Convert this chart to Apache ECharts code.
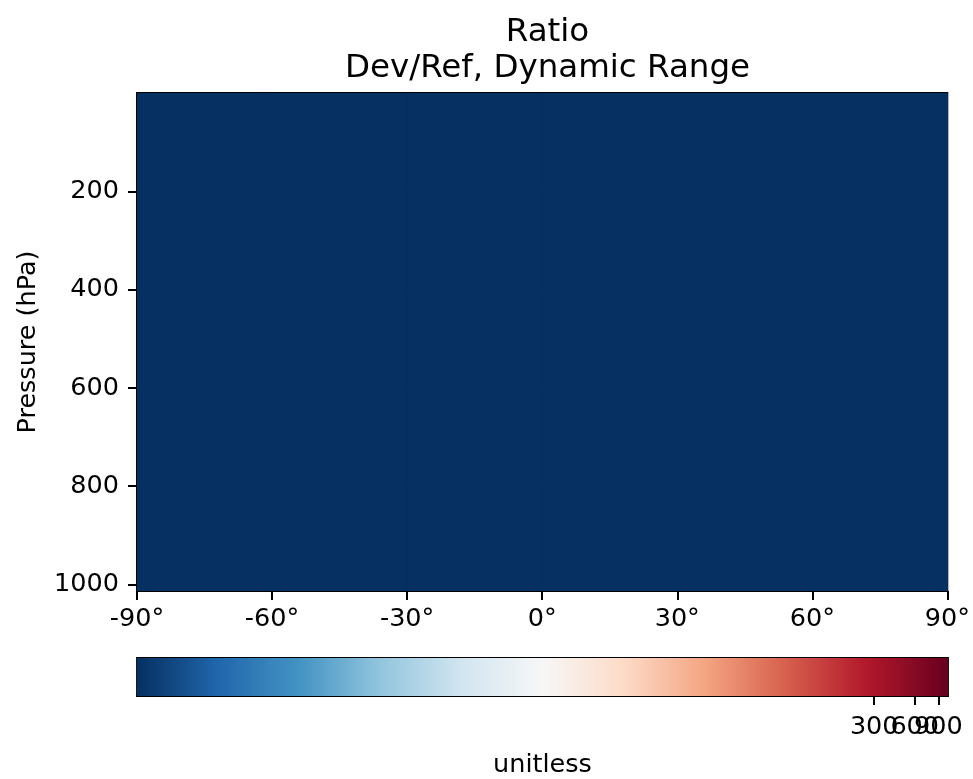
<!DOCTYPE html>
<html><head><meta charset="utf-8">
<script src="https://cdn.jsdelivr.net/npm/echarts@6/dist/echarts.min.js"></script>
<style>html,body{margin:0;padding:0;background:#fff}#c{width:973px;height:779px}</style>
</head><body><div id="c"></div>
<script>
// ---- data ----
const latEdges = [-90, -60, -30, 0, 30, 60, 90];
const pressureEdges = [0.01, 200, 400, 600, 800, 1013.25];
// ratio values per cell [pressure band][lat band]
const ratioValues = [
  [0.001, 0.001, 0.001, 0.001, 0.001, 0.001],
  [0.001, 0.001, 0.001, 0.001, 0.001, 0.001],
  [0.001, 0.001, 0.001, 0.001, 0.001, 0.001],
  [0.001, 0.001, 0.001, 0.001, 0.001, 0.001],
  [0.001, 0.001, 0.001, 0.001, 0.001, 0.001]
];
const latTicks = [-90, -60, -30, 0, 30, 60, 90];
const pressureTicks = [200, 400, 600, 800, 1000];
const colorbarRange = [0.001, 1060];
const colorbarTicks = [300, 600, 900];

// RdBu_r colormap
const cmap = ['#053061','#2166ac','#4393c3','#92c5de','#d1e5f0','#f7f7f7','#fddbc7','#f4a582','#d6604d','#b2182b','#67001f'];
function hex2rgb(h){return [parseInt(h.slice(1,3),16),parseInt(h.slice(3,5),16),parseInt(h.slice(5,7),16)];}
function colorFor(v){
  const l0=Math.log10(colorbarRange[0]), l1=Math.log10(colorbarRange[1]);
  let t=(Math.log10(Math.max(v,1e-12))-l0)/(l1-l0); t=Math.min(1,Math.max(0,t));
  const p=t*(cmap.length-1); const i=Math.min(cmap.length-2,Math.floor(p)); const f=p-i;
  const a=hex2rgb(cmap[i]), b=hex2rgb(cmap[i+1]);
  return 'rgb('+a.map((x,k)=>Math.round(x+(b[k]-x)*f)).join(',')+')';
}

const cells=[];
for(let j=0;j<pressureEdges.length-1;j++)for(let i=0;i<latEdges.length-1;i++)
  cells.push([latEdges[i],latEdges[i+1],pressureEdges[j],pressureEdges[j+1],ratioValues[j][i]]);
const cbTickData = colorbarTicks.map(v=>[v,0]);

const FONT='DejaVu Sans';
const FS=25.5;
const TFS=32.5;
const chart=echarts.init(document.getElementById('c'),null,{renderer:'canvas'});
const axisLine={show:true,onZero:false,lineStyle:{color:'#000',width:1.8}};
const tick={show:true,length:9,lineStyle:{color:'#000',width:2}};
chart.setOption({
  animation:false,
  textStyle:{fontFamily:FONT},
  title:[
    {text:'Ratio',left:542.5,textAlign:'center',top:11,textStyle:{fontFamily:FONT,fontWeight:'normal',fontSize:TFS,color:'#000'}},
    {text:'Dev/Ref, Dynamic Range',left:542.5,textAlign:'center',top:47,textStyle:{fontFamily:FONT,fontWeight:'normal',fontSize:TFS,color:'#000'}}
  ],
  grid:[
    {left:137,top:93,width:811,height:498,show:true,borderColor:'#000',borderWidth:1.8,containLabel:false},
    {left:137,top:658,width:811,height:41,show:true,borderColor:'#000',borderWidth:1.8,containLabel:false}
  ],
  xAxis:[
    {gridIndex:0,type:'value',min:latTicks[0],max:latTicks[latTicks.length-1],interval:30,axisLine:axisLine,splitLine:{show:false},
     axisTick:Object.assign({customValues:latTicks},tick),
     axisLabel:{color:'#000',fontSize:FS,margin:15,customValues:latTicks,formatter:v=>v+'°'}},
    {gridIndex:1,type:'log',min:colorbarRange[0],max:colorbarRange[1],logBase:10,axisLine:axisLine,splitLine:{show:false},
     axisTick:Object.assign({customValues:colorbarTicks},tick),
     axisLabel:{show:false},
     name:'unitless',nameLocation:'middle',nameGap:56,nameTextStyle:{color:'#000',fontSize:FS}}
  ],
  yAxis:[
    {gridIndex:0,type:'value',min:pressureEdges[0],max:pressureEdges[pressureEdges.length-1],inverse:true,
     axisLine:axisLine,splitLine:{show:false},
     axisTick:Object.assign({customValues:pressureTicks},tick),
     axisLabel:{color:'#000',fontSize:FS,margin:18,customValues:pressureTicks,formatter:v=>String(v)},
     name:'Pressure (hPa)',nameLocation:'middle',nameGap:96,nameTextStyle:{color:'#000',fontSize:FS}},
    {gridIndex:1,type:'value',min:0,max:1,show:false}
  ],
  series:[
    {type:'custom',xAxisIndex:0,yAxisIndex:0,data:cells,clip:true,z:1,
     renderItem:(params,api)=>{
       const p0=api.coord([api.value(0),api.value(2)]), p1=api.coord([api.value(1),api.value(3)]);
       const c=colorFor(api.value(4));
       return {type:'rect',shape:{x:Math.min(p0[0],p1[0]),y:Math.min(p0[1],p1[1]),width:Math.abs(p1[0]-p0[0]),height:Math.abs(p1[1]-p0[1])},
         style:{fill:c,stroke:c,lineWidth:1.5}};
     }},
    {type:'custom',xAxisIndex:1,yAxisIndex:1,data:[[colorbarRange[0],colorbarRange[1]]],z:1,
     renderItem:(params,api)=>{
       const p0=api.coord([api.value(0),0]), p1=api.coord([api.value(1),1]);
       const stops=cmap.map((c,i)=>({offset:i/(cmap.length-1),color:c}));
       return {type:'rect',shape:{x:p0[0],y:p1[1],width:p1[0]-p0[0],height:p0[1]-p1[1]},
         style:{fill:new echarts.graphic.LinearGradient(0,0,1,0,stops)}};
     }},
    {type:'custom',xAxisIndex:1,yAxisIndex:1,data:cbTickData,clip:false,silent:true,
     renderItem:(params,api)=>{
       const p=api.coord([api.value(0),api.value(1)]);
       return {type:'text',x:p[0],y:p[1]+18,style:{text:String(api.value(0)),fill:'#000',font:FS+'px "DejaVu Sans"',align:'center',verticalAlign:'top'}};
     }}
  ]
});
</script></body></html>
